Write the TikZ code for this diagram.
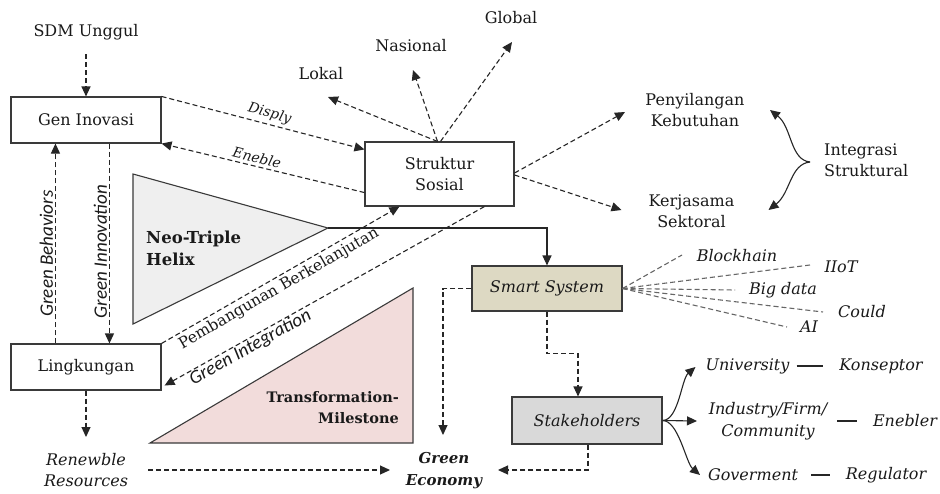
\documentclass[tikz,border=0pt]{standalone}
\usepackage{fontspec}
\setmainfont{DejaVu Serif}
\newfontfamily\labelsans{Carlito}
\usetikzlibrary{arrows.meta,calc}

\definecolor{edgegray}{HTML}{3A3A3A}
\definecolor{helixfill}{HTML}{EFEFEF}
\definecolor{milefill}{HTML}{F2DCDB}
\definecolor{smartfill}{HTML}{DDD9C3}
\definecolor{stakefill}{HTML}{D9D9D9}
\definecolor{txt}{HTML}{1A1A1A}

\tikzset{
  base/.style={font=\fontsize{16}{21.5}\selectfont, text=txt, align=center, inner sep=2pt},
  ital/.style={base, font=\fontsize{16}{21.5}\selectfont\itshape},
  boldital/.style={base, font=\fontsize{15}{22}\selectfont\bfseries\itshape},
  bigbold/.style={base, font=\fontsize{14.5}{21}\selectfont\bfseries},
  box/.style={base, draw=edgegray, line width=1.1pt, minimum width=150pt, minimum height=46pt},
  flow/.style={draw=black!85, line width=1.1pt, dash pattern=on 5pt off 3pt,
               -{Triangle[length=10pt,width=9pt]}},
  solidflow/.style={draw=black!85, line width=1.1pt, -{Triangle[length=10pt,width=9pt]}},
  techline/.style={draw=black!60, line width=1.1pt, dash pattern=on 5pt off 3pt},
  lbl/.style={font=\fontsize{14}{16}\selectfont\itshape, text=txt, inner sep=2pt},
  pblbl/.style={font=\fontsize{15.5}{17}\selectfont, text=txt, inner sep=2pt},
  sanslbl/.style={font=\labelsans\fontsize{19}{20}\selectfont\itshape, text=txt, inner sep=2pt},
  wedge/.style={draw=edgegray, line width=1.1pt},
}

\begin{document}
\begin{tikzpicture}[x=1pt,y=-1pt]
\useasboundingbox (0,0) rectangle (940,493);
\fill[white] (0,0) rectangle (940,493);

% wedges
\coordinate (apex) at (328,228);
\draw[wedge, fill=helixfill] (133,174) -- (apex) -- (133,324) -- cycle;
\draw[wedge, fill=milefill] (150,443) -- (413,288) -- (413,443) -- cycle;
\node[bigbold, font=\fontsize{16.5}{22}\selectfont\bfseries, align=left, anchor=west] (helix) at (144,248) {Neo-Triple\\Helix};
\node[bigbold, align=right, anchor=east] (mile) at (401,408) {Transformation-\\Milestone};

% boxes
\node[box] (gen) at (86,120) {Gen Inovasi};
\node[box, minimum width=149pt, minimum height=64pt] (struk) at (439.5,174) {Struktur\\Sosial};
\node[box] (ling) at (86,367) {Lingkungan};
\node[box, fill=smartfill, font=\fontsize{16}{21.5}\selectfont\itshape, minimum height=45pt] (smart) at (547,288.5) {Smart System};
\node[box, fill=stakefill, font=\fontsize{16}{21.5}\selectfont\itshape, minimum height=47pt] (stake) at (587,420.5) {Stakeholders};

% free labels
\node[base] (sdm) at (86,32) {SDM Unggul};
\node[base] (lokal) at (321,74) {Lokal};
\node[base] (nas) at (411,46) {Nasional};
\node[base] (glob) at (511,18) {Global};
\node[base] (peny) at (695,110) {Penyilangan\\Kebutuhan};
\node[base] (kerja) at (691.5,211) {Kerjasama\\Sektoral};
\node[base, align=left, anchor=west] (integ) at (822,160) {Integrasi\\Struktural};
\node[ital] (renew) at (86,470) {Renewble\\Resources};
\node[boldital] (green) at (444,471) {Green\\Economy};

\node[ital] (block) at (737,256) {Blockhain};
\node[ital] (iiot) at (841,267) {IIoT};
\node[ital] (bigd) at (783,290) {Big data};
\node[ital] (could) at (862,312) {Could};
\node[ital] (ai) at (809,327) {AI};

\node[ital] (univ) at (747.5,366) {University};
\node[ital] (kons) at (881,366) {Konseptor};
\node[ital] (indus) at (768,421) {Industry/Firm/\\Community};
\node[ital] (eneb) at (905,421) {Enebler};
\node[ital] (gov) at (753,475) {Goverment};
\node[ital] (reg) at (886,475) {Regulator};

% connectors around Gen Inovasi and Lingkungan
\draw[flow] ($(sdm)+(0,22)$) -- (gen.north);
\draw[flow] (gen.north east) -- node[lbl, sloped, above=1pt, pos=0.52] {Disply}
  ($(struk.north west)+(0,8)$);
\draw[flow] ($(struk.south west)+(0,-14)$) -- node[lbl, sloped, above=1pt, pos=0.54] {Eneble}
  (gen.south east);
\draw[flow] ($(ling.north west)+(45,0)$) -- node[sanslbl, rotate=90, anchor=south, pos=0.45] {Green Behaviors}
  ($(gen.south west)+(45,0)$);
\draw[flow] ($(gen.south west)+(99,0)$) -- node[sanslbl, rotate=90, anchor=south, pos=0.54] {Green Innovation}
  ($(ling.north west)+(99,0)$);
\draw[flow] (ling.north east) -- node[pblbl, sloped, below=1pt, pos=0.47] {Pembangunan Berkelanjutan}
  ($(struk.south west)+(35,0)$);
\draw[flow] ($(struk.south west)+(120,0)$) -- node[sanslbl, sloped, below=-2pt, pos=0.745] {Green Integration}
  ($(ling.south east)+(3,-5)$);
\draw[flow] (ling.south) -- ($(renew)+(0,-33)$);
\draw[flow] ($(renew)+(62,0)$) -- ($(green)+(-54,-1)$);

% Struktur Sosial outputs
\draw[flow] ($(struk.north)+(-2,0)$) -- ($(lokal)+(7,23)$);
\draw[flow] ($(struk.north)+(-2,0)$) -- ($(nas)+(2,24)$);
\draw[flow] ($(struk.north)+(1,0)$) -- ($(glob)+(1,24)$);
\draw[flow] ($(struk.east)+(0,-1)$) -- ($(peny)+(-70,2)$);
\draw[flow] ($(struk.east)+(0,1)$) -- ($(kerja)+(-70,-1)$);

% Integrasi Struktural brace arrows
\draw[solidflow] ($(integ.west)+(-12,2)$) .. controls +(-20,-2) and +(22,17) .. ($(peny)+(75,0)$);
\draw[solidflow] ($(integ.west)+(-12,2)$) .. controls +(-20,2) and +(22,-17) .. ($(kerja)+(77,-1)$);

% Neo-Triple Helix to Smart System
\draw[solidflow] (apex) -| (smart.north);

% Smart System links
\draw[techline] (smart.east) -- ($(block)+(-55,-1)$);
\draw[techline] (smart.east) -- ($(iiot)+(-31,-2)$);
\draw[techline] (smart.east) -- ($(bigd)+(-48,0)$);
\draw[techline] (smart.east) -- ($(could)+(-39,0)$);
\draw[techline] (smart.east) -- ($(ai)+(-22,0)$);
\draw[flow] (smart.west) -| ($(green)+(-1,-36)$);
\draw[flow] (smart.south) |- ($(stake.north)+(-9,-43)$) -- ($(stake.north)+(-9,0)$);

% Stakeholders links
\draw[flow] ($(stake.south)+(1,0)$) |- ($(green)+(54,-1)$);
\draw[solidflow] (stake.east) .. controls +(16,0) and +(-14,12) .. ($(univ)+(-52,1)$);
\draw[solidflow] (stake.east) -- ($(indus)+(-71,0)$);
\draw[solidflow] (stake.east) .. controls +(16,0) and +(-14,-12) .. ($(gov)+(-53,0)$);
\draw[line width=1.1pt, draw=black!85, shorten <=5pt, shorten >=14pt] (univ.east) -- (kons.west);
\draw[line width=1.1pt, draw=black!85, shorten <=8pt, shorten >=14pt] (indus.east) -- (eneb.west);
\draw[line width=1.1pt, draw=black!85, shorten <=11pt, shorten >=14pt] (gov.east) -- (reg.west);
\end{tikzpicture}
\end{document}
